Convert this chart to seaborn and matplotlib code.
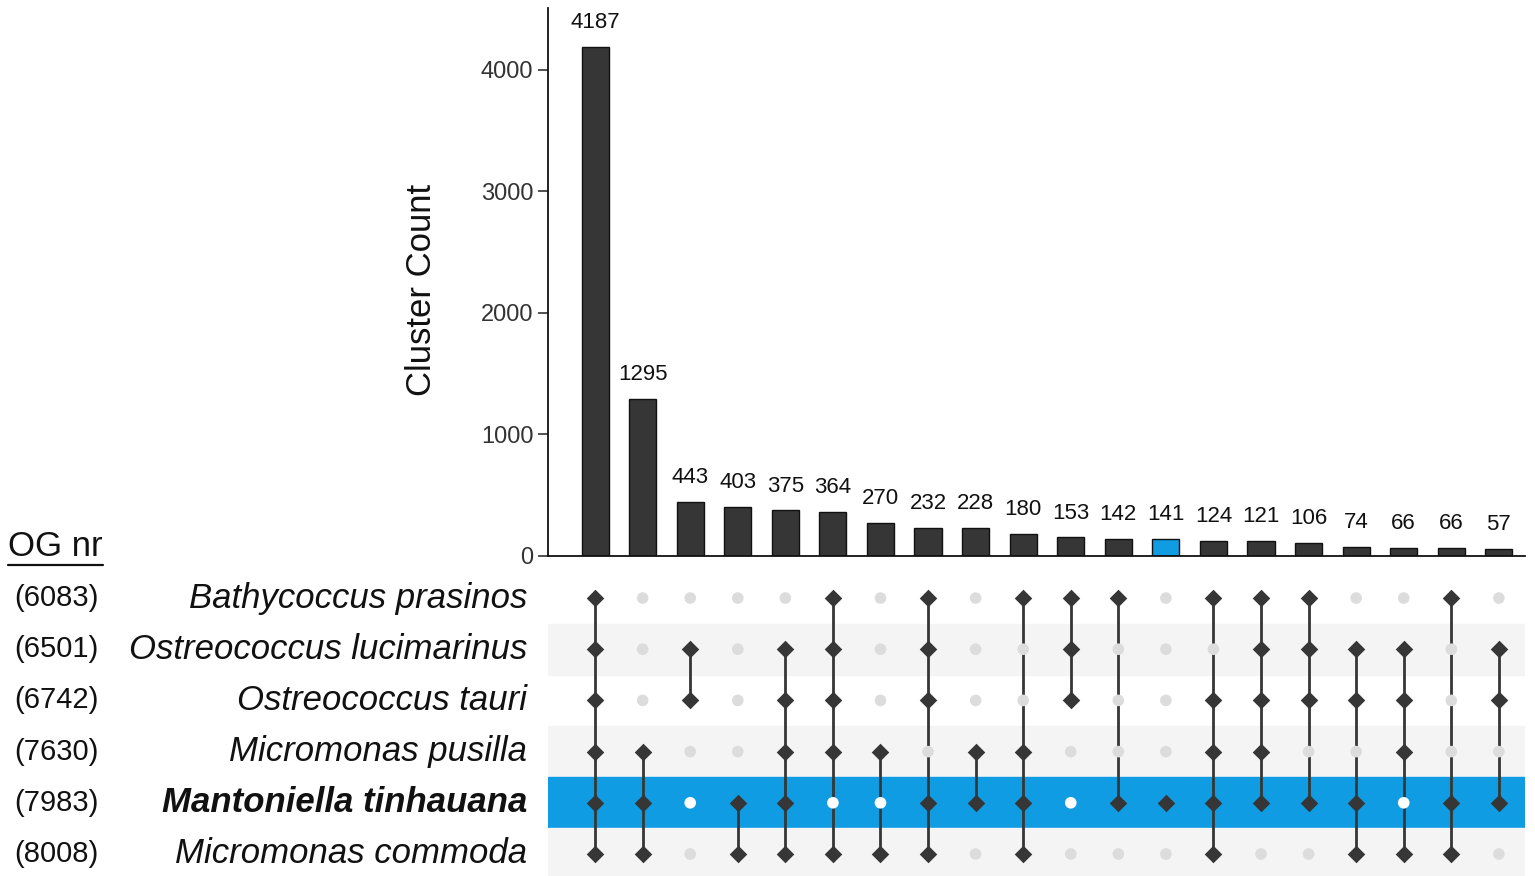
import matplotlib.pyplot as plt
import numpy as np
import pandas as pd
import seaborn as sns
from matplotlib.lines import Line2D

# species rows, top to bottom
codes = ["B", "OL", "OT", "MP", "MT", "MC"]
species = ["Bathycoccus prasinos", "Ostreococcus lucimarinus", "Ostreococcus tauri",
           "Micromonas pusilla", "Mantoniella tinhauana", "Micromonas commoda"]
og_numbers = ["(6083)", "(6501)", "(6742)", "(7630)", "(7983)", "(8008)"]

# intersections, left to right
counts = [4187, 1295, 443, 403, 375, 364, 270, 232, 228, 180,
          153, 142, 141, 124, 121, 106, 74, 66, 66, 57]
members = [
    ["B", "OL", "OT", "MP", "MT", "MC"],
    ["MP", "MT", "MC"],
    ["OL", "OT"],
    ["MT", "MC"],
    ["OL", "OT", "MP", "MT", "MC"],
    ["B", "OL", "OT", "MP", "MC"],
    ["MP", "MC"],
    ["B", "OL", "OT", "MT", "MC"],
    ["MP", "MT"],
    ["B", "MP", "MT", "MC"],
    ["B", "OL", "OT"],
    ["B", "MT"],
    ["MT"],
    ["B", "OT", "MP", "MT", "MC"],
    ["B", "OL", "OT", "MP", "MT"],
    ["B", "OL", "OT", "MT"],
    ["OL", "OT", "MT", "MC"],
    ["OL", "OT", "MP", "MC"],
    ["B", "MT", "MC"],
    ["OL", "OT", "MT"],
]
highlight = "MT"

dark = "#363636"
blue = "#109ce2"
light = "#dcdcdc"
stripe = "#f4f4f4"

sns.set_style("white")
plt.rcParams["font.family"] = ["Liberation Sans", "DejaVu Sans"]

fig = plt.figure(figsize=(15.35, 8.76), dpi=100)
ax = fig.add_axes([0.357, 0.3653, 0.6365, 0.6256])
axm = fig.add_axes([0.357, 0.0, 0.6365, 0.3477], sharex=ax)

# bars
df = pd.DataFrame({"col": np.arange(len(counts)), "count": counts})
bar_colors = [blue if m == [highlight] else dark for m in members]
sns.barplot(data=df, x="col", y="count", hue="col", palette=bar_colors,
            saturation=1, width=0.57, edgecolor="#111111", linewidth=1,
            legend=False, ax=ax)
for c in ax.containers:
    ax.bar_label(c, padding=10, fontsize=16, color="#111111")

ax.set_xlim(-0.99, 19.55)
ax.set_ylim(0, 4510)
ax.set_yticks([0, 1000, 2000, 3000, 4000])
ax.tick_params(axis="y", labelsize=17, colors="#333333", length=7, width=1.2, left=True)
ax.tick_params(axis="x", bottom=False, labelbottom=False)
ax.set_xlabel("")
ax.set_ylabel("Cluster Count", fontsize=25, color="#111111")
ax.yaxis.set_label_coords(-0.113, 0.485)
sns.despine(ax=ax)
for side in ["left", "bottom"]:
    ax.spines[side].set_color("#111111")
    ax.spines[side].set_linewidth(1.3)

# matrix
hrow = codes.index(highlight)
for r in range(len(codes)):
    if r == hrow:
        axm.axhspan(r - 0.5, r + 0.5, color=blue, zorder=0)
    elif r % 2 == 1:
        axm.axhspan(r - 0.5, r + 0.5, color=stripe, zorder=0)

rows = []
for i, m in enumerate(members):
    for r, code in enumerate(codes):
        if code in m:
            state = "on"
        elif r == hrow:
            state = "off_hl"
        else:
            state = "off"
        rows.append({"col": i, "row": r, "state": state})
dots = pd.DataFrame(rows)

for i, m in enumerate(members):
    idx = [codes.index(c) for c in m]
    if len(idx) > 1:
        axm.vlines(i, min(idx), max(idx), color=dark, linewidth=2, zorder=2)

off = dots[dots.state != "on"]
sns.scatterplot(data=off, x="col", y="row", hue="state",
                palette={"off": light, "off_hl": "white"}, s=70, marker="o",
                linewidth=0, legend=False, ax=axm, zorder=3)
on = dots[dots.state == "on"]
sns.scatterplot(data=on, x="col", y="row", color=dark, s=80, marker="D",
                linewidth=0, legend=False, ax=axm, zorder=4)

axm.set_ylim(5.43, -0.52)
axm.axis("off")

for r, (name, og) in enumerate(zip(species, og_numbers)):
    weight = "bold" if codes[r] == highlight else "normal"
    axm.text(-0.0215, r, name, transform=axm.get_yaxis_transform(), ha="right",
             va="center", fontsize=25, style="italic", weight=weight,
             color="#111111", clip_on=False)
    axm.text(-0.5036, r, og, transform=axm.get_yaxis_transform(), ha="center",
             va="center", fontsize=21, color="#111111", clip_on=False)

fig.text(0.0052, 0.3756, "OG nr", fontsize=25, color="#111111", ha="left", va="center")
fig.add_artist(Line2D([0.0052, 0.0671], [0.3555, 0.3555], color="#111111", linewidth=1.6))

fig.savefig("out.png", dpi=100)
